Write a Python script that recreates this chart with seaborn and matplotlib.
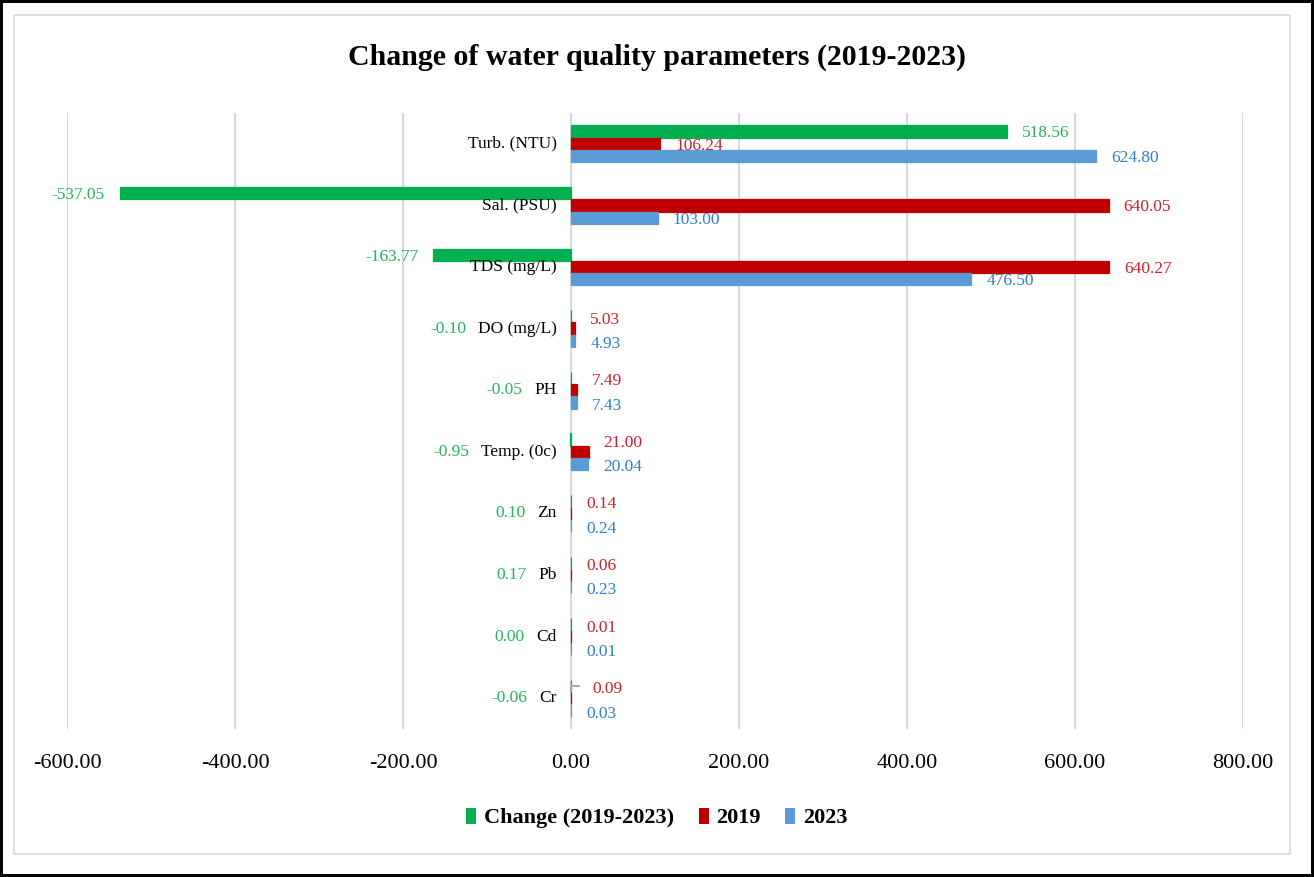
import matplotlib
matplotlib.use("Agg")
import matplotlib.pyplot as plt
import seaborn as sns
import pandas as pd
from matplotlib.patches import Rectangle, Patch

# ---------------- data ----------------
categories = ["Turb. (NTU)", "Sal. (PSU)", "TDS (mg/L)", "DO (mg/L)", "PH",
              "Temp. (0c)", "Zn", "Pb", "Cd", "Cr"]
change = [518.56, -537.05, -163.77, -0.10, -0.05, -0.95, 0.10, 0.17, 0.00, -0.06]
y2019 = [106.24, 640.05, 640.27, 5.03, 7.49, 21.00, 0.14, 0.06, 0.01, 0.09]
y2023 = [624.80, 103.00, 476.50, 4.93, 7.43, 20.04, 0.24, 0.23, 0.01, 0.03]
series_names = ["Change (2019-2023)", "2019", "2023"]
x_ticks = [-600, -400, -200, 0, 200, 400, 600, 800]
title = "Change of water quality parameters (2019-2023)"

bar_colors = ["#00B050", "#C00000", "#5B9BD5"]
text_colors = ["#26B35A", "#D0202A", "#2F7FCB"]

rows = []
for name, vals in zip(series_names, [change, y2019, y2023]):
    for c, v in zip(categories, vals):
        rows.append({"Parameter": c, "Value": v, "Series": name})
df = pd.DataFrame(rows)

# ---------------- style ----------------
sns.set_style("white")
plt.rcParams["font.family"] = ["Liberation Serif", "DejaVu Serif"]
plt.rcParams["text.color"] = "black"
plt.rcParams["xtick.color"] = "black"
plt.rcParams["xtick.labelcolor"] = "black"

W, H = 1314, 877
fig = plt.figure(figsize=(W / 100, H / 100), dpi=100)
ax = fig.add_axes([67 / W, 1 - 729 / H, (1243 - 67) / W, (729 - 113) / H])

sns.barplot(data=df, y="Parameter", x="Value", hue="Series", order=categories,
            hue_order=series_names, palette=bar_colors, orient="h",
            width=0.6, saturation=1, linewidth=0, ax=ax, legend=False)

# thin outline in the bar colour so near-zero bars stay visible
for cont in ax.containers:
    for p in cont.patches:
        p.set_edgecolor(p.get_facecolor())
        p.set_linewidth(0.9)

ax.set_xlim(x_ticks[0], x_ticks[-1])
ax.set_xticks(x_ticks)
ax.set_xticklabels([f"{t:.2f}" for t in x_ticks], fontsize=16, color="black")
ax.tick_params(axis="x", length=0, pad=18)
ax.set_yticks([])
ax.set_xlabel("")
ax.set_ylabel("")
ax.grid(axis="x", color="#d9d9d9", linewidth=1.5)
ax.set_axisbelow(True)
for s in ax.spines.values():
    s.set_visible(False)

# category labels right-aligned just left of zero
cat_texts = []
for i, c in enumerate(categories):
    t = ax.annotate(c, xy=(0, i), xycoords="data", xytext=(-14, 0),
                    textcoords="offset pixels", ha="right", va="center",
                    fontsize=12.5, color="black")
    cat_texts.append(t)

# data labels
for si, cont in enumerate(ax.containers):
    vals = [change, y2019, y2023][si]
    for ci, (p, v) in enumerate(zip(cont.patches, vals)):
        end = p.get_x() + p.get_width()
        yc = p.get_y() + p.get_height() / 2
        lab = f"{v:.2f}"
        if abs(v) >= 50:
            dx = 15 if v >= 0 else -15
            ax.annotate(lab, xy=(end, yc), xytext=(dx, -2), textcoords="offset pixels",
                        ha="left" if v >= 0 else "right", va="center",
                        fontsize=12.5, color=text_colors[si])
        elif si == 0:
            ax.annotate(lab, xy=(0, 0.5), xycoords=cat_texts[ci], xytext=(-12, 0),
                        textcoords="offset pixels", ha="right", va="center",
                        fontsize=12.5, color=text_colors[si])
        else:
            dy = 9 if si == 1 else -3
            if si == 1 and categories[ci] == "Cr":
                # label moved away from its bar, with a leader line
                ax.annotate(lab, xy=(0, p.get_y()), xytext=(21, 3),
                            textcoords="offset pixels", ha="left", va="center",
                            fontsize=12.5, color=text_colors[si],
                            arrowprops=dict(arrowstyle="-", color="#a6a6a6", lw=1.5,
                                            connectionstyle="angle,angleA=0,angleB=90,rad=0",
                                            shrinkA=7, shrinkB=0, relpos=(0, 0.7)))
            else:
                ax.annotate(lab, xy=(max(end, 0), yc), xytext=(15, dy),
                            textcoords="offset pixels", ha="left", va="center",
                            fontsize=12.5, color=text_colors[si])

# title
fig.text(0.5, 1 - 57 / H, title, ha="center", va="center",
         fontsize=21.5, fontweight="bold", color="black")

# legend
handles = [Patch(facecolor=c, edgecolor="none") for c in bar_colors]
leg = fig.legend(handles, series_names, loc="center", bbox_to_anchor=(0.5, 1 - 818 / H),
                 ncol=3, frameon=False, handlelength=0.45, handleheight=0.75,
                 handletextpad=0.35, columnspacing=1.1,
                 prop={"family": ["Liberation Serif"], "weight": "bold", "size": 16})
for t in leg.get_texts():
    t.set_color("black")

# frames
fig.add_artist(Rectangle((14 / W, 1 - 854 / H), (1290 - 14) / W, (854 - 15) / H,
                         transform=fig.transFigure, fill=False,
                         edgecolor="#d9d9d9", linewidth=1.2))
fig.add_artist(Rectangle((0, 0), 1, 1, transform=fig.transFigure, fill=False,
                         edgecolor="black", linewidth=4.3))

fig.savefig("out.png", dpi=100, facecolor="white")
